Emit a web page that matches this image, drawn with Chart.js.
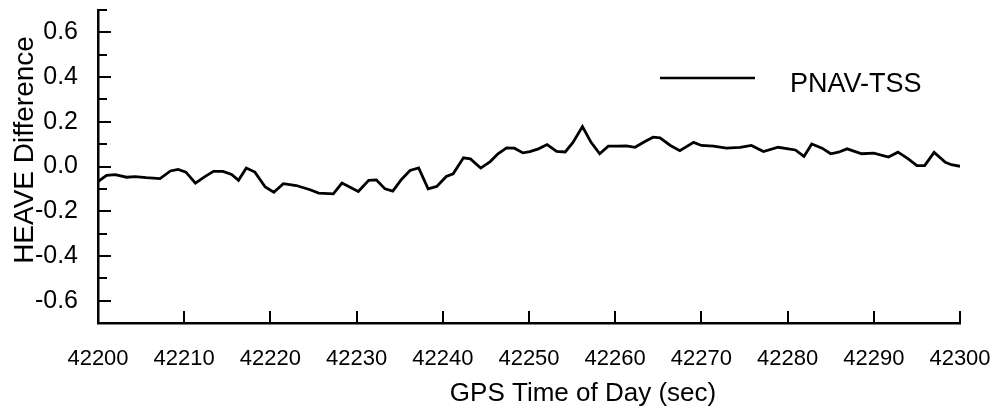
<!DOCTYPE html>
<html>
<head>
<meta charset="utf-8">
<script src="https://cdn.jsdelivr.net/npm/chart.js@4"></script>
<style>
  html, body { margin: 0; padding: 0; background: #fff; }
  #wrap { width: 998px; height: 409px; }
</style>
</head>
<body>
<div id="wrap"><canvas id="heaveChart" width="998" height="409"></canvas></div>
<script>
// GPS time of day (sec) and PNAV-TSS heave difference
const times = [42200, 42201, 42202, 42203.3, 42204.3, 42205.6, 42207.2, 42208.4, 42209.3, 42210.2,
  42211.3, 42212.4, 42213.4, 42214.5, 42215.5, 42216.3, 42217.2, 42218.2, 42219.4, 42220.4,
  42221.5, 42223, 42224.6, 42225.6, 42227.3, 42228.3, 42230.2, 42231.4, 42232.3, 42233.3,
  42234.2, 42235.2, 42236.2, 42237.2, 42238.3, 42239.3, 42240.4, 42241.2, 42242.4, 42243.2,
  42244.4, 42245.5, 42246.4, 42247.4, 42248.3, 42249.3, 42250.1, 42251.1, 42252.1, 42253.2,
  42254.2, 42255.1, 42256.2, 42257.2, 42258.2, 42259.2, 42260.2, 42261.3, 42262.3, 42263.5,
  42264.4, 42265.2, 42266.4, 42267.5, 42269.1, 42270, 42271.4, 42272.9, 42274.5, 42275.8,
  42277.2, 42278.9, 42280.9, 42281.9, 42282.8, 42284, 42285, 42285.9, 42286.9, 42288.6,
  42290, 42291.7, 42292.8, 42294, 42295, 42295.9, 42297, 42298.3, 42299, 42300];
const heave = [-0.067, -0.04, -0.036, -0.048, -0.045, -0.05, -0.054, -0.02, -0.013, -0.025,
  -0.074, -0.045, -0.022, -0.022, -0.036, -0.062, -0.007, -0.025, -0.092, -0.115,
  -0.077, -0.085, -0.104, -0.119, -0.122, -0.074, -0.112, -0.062, -0.06, -0.1,
  -0.11, -0.058, -0.018, -0.006, -0.1, -0.089, -0.045, -0.033, 0.039, 0.034,
  -0.007, 0.022, 0.057, 0.083, 0.082, 0.061, 0.067, 0.079, 0.098, 0.068,
  0.065, 0.108, 0.179, 0.108, 0.057, 0.091, 0.091, 0.092, 0.086, 0.113,
  0.131, 0.128, 0.094, 0.071, 0.108, 0.094, 0.091, 0.082, 0.086, 0.094,
  0.067, 0.086, 0.074, 0.045, 0.101, 0.082, 0.057, 0.064, 0.079, 0.057,
  0.06, 0.042, 0.064, 0.034, 0.004, 0.004, 0.063, 0.019, 0.008, 0.001];

const xTitle = 'GPS Time of Day (sec)';
const yTitle = 'HEAVE Difference';

const FONT = "'Liberation Sans', Arial, Helvetica, sans-serif";

// inward ticks, legend and the two axis titles (they sit off-centre in the original)
const decorations = {
  id: 'decorations',
  afterDraw(chart) {
    const c = chart.ctx;
    const xs = chart.scales.x, ys = chart.scales.y;
    const area = chart.chartArea;
    c.save();
    c.strokeStyle = '#000';
    c.lineWidth = 2;
    c.beginPath();
    ys.ticks.forEach(t => {
      const py = Math.round(ys.getPixelForValue(t.value));
      const major = Math.round(t.value * 10) % 2 === 0;
      c.moveTo(area.left, py);
      c.lineTo(area.left + (major ? 13 : 9), py);
    });
    xs.ticks.forEach(t => {
      const px = Math.round(xs.getPixelForValue(t.value));
      c.moveTo(px, area.bottom);
      c.lineTo(px, area.bottom - 12);
    });
    c.stroke();

    // legend
    const lx = 660, ly = 78;
    c.lineWidth = 2.5;
    c.beginPath();
    c.moveTo(lx, ly);
    c.lineTo(lx + 95, ly);
    c.stroke();
    c.fillStyle = '#000';
    c.font = '27px ' + FONT;
    c.textBaseline = 'alphabetic';
    c.textAlign = 'left';
    c.fillText(chart.data.datasets[0].label, 790, 92);

    // axis titles
    c.font = '26px ' + FONT;
    c.textAlign = 'center';
    c.fillText(xTitle, 583, 401);
    c.save();
    c.translate(33, 150);
    c.rotate(-Math.PI / 2);
    c.font = '28px ' + FONT;
    c.fillText(yTitle, 0, 0);
    c.restore();
    c.restore();
  }
};

new Chart(document.getElementById('heaveChart'), {
  type: 'line',
  data: {
    datasets: [{
      label: 'PNAV-TSS',
      data: times.map((t, i) => ({ x: t, y: heave[i] })),
      borderColor: '#000',
      borderWidth: 2.8,
      pointRadius: 0,
      tension: 0,
      fill: false
    }]
  },
  options: {
    responsive: false,
    animation: false,
    layout: { padding: { top: 10, right: 38, left: 0, bottom: 0 } },
    plugins: { legend: { display: false }, tooltip: { enabled: false } },
    scales: {
      x: {
        type: 'linear',
        min: 42200,
        max: 42300,
        afterFit: s => { s.height = 86; s.paddingLeft = 0; s.paddingRight = 0; },
        grid: { display: false, drawTicks: false },
        border: { display: true, color: '#000', width: 2.5 },
        ticks: {
          stepSize: 10,
          padding: 23,
          color: '#000',
          font: { family: FONT, size: 22 },
          maxRotation: 0,
          autoSkip: false,
          callback: v => String(v)
        }
      },
      y: {
        min: -0.7,
        max: 0.7,
        afterFit: s => { s.width = 98; s.paddingTop = 0; s.paddingBottom = 0; },
        grid: { display: false, drawTicks: false },
        border: { display: true, color: '#000', width: 2.5 },
        ticks: {
          stepSize: 0.1,
          padding: 20,
          color: '#000',
          autoSkip: false,
          font: { family: FONT, size: 25, lineHeight: 1 },
          callback: v => (Math.round(v * 10) % 2 === 0 ? (Math.round(v * 10) / 10).toFixed(1) : '')
        }
      }
    }
  },
  plugins: [decorations]
});
</script>
</body>
</html>
